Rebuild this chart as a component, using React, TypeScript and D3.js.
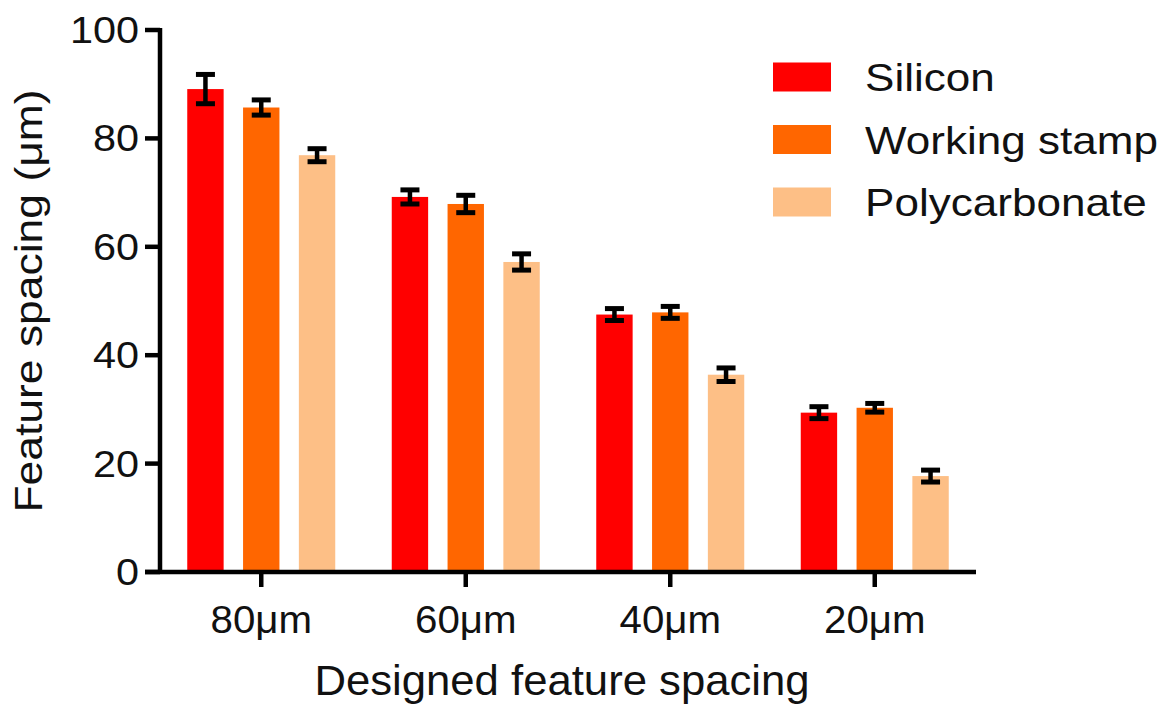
import React, { useEffect, useRef } from 'react';
import * as d3 from 'd3';

const categories = ['80μm', '60μm', '40μm', '20μm'];
const seriesNames = ['Silicon', 'Working stamp', 'Polycarbonate'];
const seriesColors = ['#FF0000', '#FF6600', '#FDBF86'];
const siliconMean = [89.1, 69.2, 47.5, 29.4];
const siliconErr = [2.7, 1.3, 1.1, 1.1];
const stampMean = [85.7, 67.9, 47.9, 30.3];
const stampErr = [1.4, 1.6, 1.1, 0.8];
const polyMean = [76.9, 57.2, 36.4, 17.7];
const polyErr = [1.2, 1.5, 1.25, 1.1];
const yTicks = [0, 20, 40, 60, 80, 100];

const FONT = 'Liberation Sans, Arial, sans-serif';

export default function App() {
  const svgRef = useRef<SVGSVGElement>(null);

  useEffect(() => {
    if (!svgRef.current) return;
    const svg = d3.select(svgRef.current);
    svg.selectAll('*').remove();

    const means = [siliconMean, stampMean, polyMean];
    const errs = [siliconErr, stampErr, polyErr];

    const y = d3.scaleLinear().domain([0, 100]).range([572, 30]);
    const x0 = d3.scaleBand<string>().domain(categories).range([159, 977]).paddingInner(0).paddingOuter(0);
    const x1 = d3.scaleBand<string>().domain(seriesNames).range([-74, 74]).paddingInner(0.348).paddingOuter(0);

    // text is a bit wider than Arial in the original, so stretch along the baseline
    const label = (x: number, yy: number, txt: string, size: number, anchor: string, sx: number, rotate = false) =>
      svg.append('text')
        .attr('transform', `translate(${x},${yy})${rotate ? ' rotate(-90)' : ''} scale(${sx},1)`)
        .attr('text-anchor', anchor)
        .attr('font-family', FONT)
        .attr('font-size', size)
        .attr('fill', '#111')
        .text(txt);

    // bars
    const g = svg.append('g');
    seriesNames.forEach((s, si) => {
      categories.forEach((c, ci) => {
        const cx = x0(c)! + x0.bandwidth() / 2 + x1(s)!;
        g.append('rect')
          .attr('x', cx)
          .attr('y', y(means[si][ci]))
          .attr('width', x1.bandwidth())
          .attr('height', y(0) - y(means[si][ci]))
          .attr('fill', seriesColors[si]);
      });
    });

    // error bars
    seriesNames.forEach((s, si) => {
      categories.forEach((c, ci) => {
        const cx = x0(c)! + x0.bandwidth() / 2 + x1(s)! + x1.bandwidth() / 2;
        const hi = y(means[si][ci] + errs[si][ci]);
        const lo = y(means[si][ci] - errs[si][ci]);
        const e = g.append('g').attr('stroke', '#000');
        e.append('line').attr('x1', cx).attr('x2', cx).attr('y1', hi).attr('y2', lo).attr('stroke-width', 4.5);
        e.append('line').attr('x1', cx - 9.5).attr('x2', cx + 9.5).attr('y1', hi).attr('y2', hi).attr('stroke-width', 5);
        e.append('line').attr('x1', cx - 9.5).attr('x2', cx + 9.5).attr('y1', lo).attr('y2', lo).attr('stroke-width', 5);
      });
    });

    // axes
    const ax = svg.append('g').attr('stroke', '#000').attr('stroke-width', 4.5);
    ax.append('line').attr('x1', 160).attr('x2', 160).attr('y1', y(100) - 2).attr('y2', y(0));
    ax.append('line').attr('x1', 145).attr('x2', 976).attr('y1', y(0)).attr('y2', y(0));
    yTicks.forEach(t => {
      ax.append('line').attr('x1', 145).attr('x2', 160).attr('y1', y(t)).attr('y2', y(t));
      label(139, y(t) + 13, String(t), 37, 'end', 1.12);
    });
    categories.forEach(c => {
      const cx = x0(c)! + x0.bandwidth() / 2;
      ax.append('line').attr('x1', cx).attr('x2', cx).attr('y1', y(0)).attr('y2', y(0) + 15);
      label(cx, 633, c, 38, 'middle', 1.06);
    });

    label(562, 695, 'Designed feature spacing', 42, 'middle', 1.04);
    label(42, 301, 'Feature spacing (μm)', 39, 'middle', 1.14, true);

    // legend
    const legY = d3.scalePoint<string>().domain(seriesNames).range([77, 202]);
    seriesNames.forEach((s, i) => {
      const cy = legY(s)!;
      svg.append('rect')
        .attr('x', 773).attr('y', cy - 14.5)
        .attr('width', 58).attr('height', 29)
        .attr('fill', seriesColors[i]);
      label(865, cy + 14, s, 39, 'start', 1.13);
    });
  }, []);

  return (
    <svg
      ref={svgRef}
      width={1169}
      height={704}
      style={{ position: 'absolute', left: 0, top: 0, background: '#fff' }}
    />
  );
}
